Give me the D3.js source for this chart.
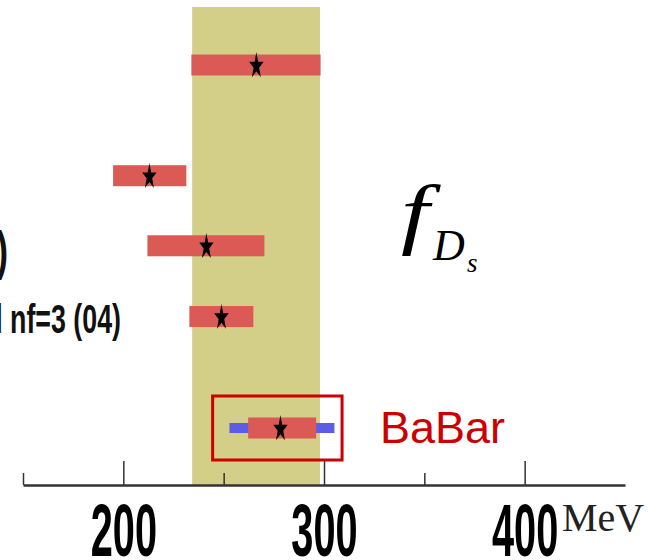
<!DOCTYPE html>
<html>
<head>
<meta charset="utf-8">
<script src="https://cdn.jsdelivr.net/npm/d3@7"></script>
<style>
  body { margin: 0; background: #fff; }
  svg { display: block; }
</style>
</head>
<body>
<div id="chart"></div>
<script>
// fDs results (MeV): central value and error band of each row
var rows      = [0, 3.05, 4.98, 6.93, 10];
var centers   = [266.3, 213.0, 241.4, 248.9, 278.3];
var lows      = [233.9, 194.9, 212.0, 232.9, 262.2];
var highs     = [298.3, 231.4, 270.3, 264.8, 296.1];
var labels    = ["", "", "(05)", "Aubin et al nf=3 (04)", ""];

// BaBar systematic (blue) error
var babarRow  = 10;
var babarSys  = [252.9, 305.2];
var babarBox  = [244.5, 309.0];

// average band
var band      = [234.3, 298.0];

var majorTicks = [200, 300, 400];
var minorTicks = [150, 250, 350];

var width = 650, height = 560;
var axisY = 485;

var svg = d3.select("#chart")
    .append("svg")
    .attr("width", width)
    .attr("height", height);

svg.append("rect")
    .attr("width", width)
    .attr("height", height)
    .attr("fill", "#fff");

var x = d3.scaleLinear().domain([150, 450]).range([23, 625]);
var y = d3.scaleLinear().domain([0, 10]).range([65, 428]);

// yellow band
svg.append("rect")
    .attr("x", x(band[0]))
    .attr("y", 7)
    .attr("width", x(band[1]) - x(band[0]))
    .attr("height", axisY - 7)
    .attr("fill", "#d3ce88");

// blue systematic bar for BaBar
svg.append("rect")
    .attr("x", x(babarSys[0]))
    .attr("y", y(babarRow) - 5)
    .attr("width", x(babarSys[1]) - x(babarSys[0]))
    .attr("height", 10)
    .attr("fill", "#5c5ce6");

// red bars
var data = rows.map(function (r, i) {
    return {row: r, c: centers[i], lo: lows[i], hi: highs[i], label: labels[i]};
});

svg.selectAll(".bar")
    .data(data)
    .join("rect")
    .attr("class", "bar")
    .attr("x", function (d) { return x(d.lo); })
    .attr("y", function (d) { return y(d.row) - 10.5; })
    .attr("width", function (d) { return x(d.hi) - x(d.lo); })
    .attr("height", 21)
    .attr("fill", "#db5a55");

// stars
var star = d3.symbol().type(d3.symbolStar).size(90);
svg.selectAll(".star")
    .data(data)
    .join("path")
    .attr("class", "star")
    .attr("d", star)
    .attr("transform", function (d) {
        return "translate(" + x(d.c) + "," + (y(d.row) + 1) + ") scale(0.85,1.55)";
    })
    .attr("fill", "#000");

// row labels (mostly cut off on the left)
svg.selectAll(".lab")
    .data(data.filter(function (d) { return d.label; }))
    .join("text")
    .attr("class", "lab")
    .attr("text-anchor", "end")
    .attr("font-family", "Liberation Sans, Arial, sans-serif")
    .attr("font-weight", "bold")
    .attr("fill", "#111")
    .attr("font-size", function (d, i) { return i === 0 ? 53 : 40; })
    .attr("transform", function (d, i) {
        return i === 0
            ? "translate(8," + 269 + ") scale(0.67,1)"
            : "translate(121," + 333 + ") scale(0.67,1)";
    })
    .text(function (d) { return d.label; });

// BaBar box
svg.append("rect")
    .attr("x", x(babarBox[0]))
    .attr("y", y(babarRow) - 32)
    .attr("width", x(babarBox[1]) - x(babarBox[0]))
    .attr("height", 64)
    .attr("fill", "none")
    .attr("stroke", "#cc0000")
    .attr("stroke-width", 3);

svg.append("text")
    .attr("x", 380)
    .attr("y", 443)
    .attr("font-family", "Liberation Sans, Arial, sans-serif")
    .attr("font-size", 45)
    .attr("fill", "#cc0000")
    .text("BaBar");

// f_Ds
var fds = svg.append("g")
    .attr("font-family", "Liberation Serif, Times New Roman, serif")
    .attr("font-style", "italic")
    .attr("fill", "#000");
fds.append("text")
    .attr("transform", "translate(401,239) scale(1.3,1)")
    .attr("font-size", 78)
    .text("f");
fds.append("text").attr("x", 433).attr("y", 260).attr("font-size", 44).text("D");
fds.append("text").attr("x", 467).attr("y", 272).attr("font-size", 27).text("s");

// axis
var minorAxis = d3.axisBottom(x)
    .tickValues(minorTicks)
    .tickSize(-12)
    .tickSizeOuter(0)
    .tickFormat("");

var majorAxis = d3.axisBottom(x)
    .tickValues(majorTicks)
    .tickSize(-24)
    .tickSizeOuter(0)
    .tickFormat(d3.format("d"));

var gMinor = svg.append("g")
    .attr("transform", "translate(0," + axisY + ")")
    .call(minorAxis);
gMinor.select(".domain").remove();
gMinor.selectAll("line").attr("stroke", "#333").attr("stroke-width", 1.5);

var gMajor = svg.append("g")
    .attr("transform", "translate(0," + axisY + ")")
    .call(majorAxis);
gMajor.select(".domain").attr("stroke", "#333").attr("stroke-width", 2.5);
gMajor.selectAll("line").attr("stroke", "#333").attr("stroke-width", 1.5);
gMajor.selectAll("text")
    .attr("y", 71)
    .attr("dy", null)
    .attr("fill", "#000")
    .attr("font-family", "Liberation Sans, Arial, sans-serif")
    .attr("font-weight", "bold")
    .attr("font-size", 75)
    .attr("transform", "scale(0.53,1)");

svg.append("text")
    .attr("x", 562)
    .attr("y", 531)
    .attr("font-family", "Liberation Serif, Times New Roman, serif")
    .attr("font-size", 40)
    .attr("fill", "#222")
    .text("MeV");
</script>
</body>
</html>
